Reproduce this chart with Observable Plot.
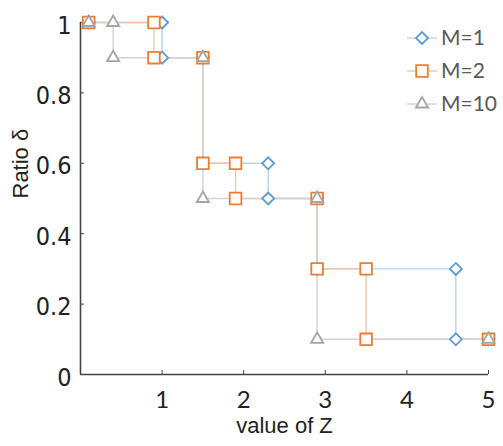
<!DOCTYPE html>
<html>
<head>
<meta charset="utf-8">
<script src="https://cdn.jsdelivr.net/npm/d3@7"></script>
<script src="https://cdn.jsdelivr.net/npm/@observablehq/plot@0.6"></script>
<style>
  html, body { margin: 0; padding: 0; background: #fff; }
  #chart { position: relative; width: 503px; height: 446px; }
</style>
</head>
<body>
<div id="chart"></div>
<script>
// Data
const seriesNames = ["M=1", "M=2", "M=10"];
const zM1 = [0.1, 1.0, 1.0, 1.5, 1.5, 2.3, 2.3, 2.9, 2.9, 4.6, 4.6, 5.0];
const rM1 = [1, 1, 0.9, 0.9, 0.6, 0.6, 0.5, 0.5, 0.3, 0.3, 0.1, 0.1];
const zM2 = [0.1, 0.9, 0.9, 1.5, 1.5, 1.9, 1.9, 2.9, 2.9, 3.5, 3.5, 5.0];
const rM2 = [1, 1, 0.9, 0.9, 0.6, 0.6, 0.5, 0.5, 0.3, 0.3, 0.1, 0.1];
const zM10 = [0.1, 0.4, 0.4, 1.5, 1.5, 2.9, 2.9, 5.0];
const rM10 = [1, 1, 0.9, 0.9, 0.5, 0.5, 0.1, 0.1];
const xTicks = [1, 2, 3, 4, 5];
const yTicks = [0, 0.2, 0.4, 0.6, 0.8, 1];

const styles = [
  {marker: "#5b9bd5", line: "#b9d3ef", symbol: "diamond2", r: 5.4},
  {marker: "#ed7d31", line: "#f4c5a6", symbol: "square2", r: 7.4},
  {marker: "#a5a5a5", line: "#d6d3d0", symbol: "triangle2", r: 5.8}
];

const series = [
  {name: seriesNames[0], pts: zM1.map((z, i) => ({z, r: rM1[i]}))},
  {name: seriesNames[1], pts: zM2.map((z, i) => ({z, r: rM2[i]}))},
  {name: seriesNames[2], pts: zM10.map((z, i) => ({z, r: rM10[i]}))}
];

const marks = [];
series.forEach((s, i) => {
  marks.push(Plot.line(s.pts, {x: "z", y: "r", stroke: styles[i].line, strokeWidth: 1.4}));
});
series.forEach((s, i) => {
  marks.push(Plot.dot(s.pts, {x: "z", y: "r", symbol: () => styles[i].symbol, r: styles[i].r,
    stroke: styles[i].marker, strokeWidth: 1.8, fill: "#fff"}));
});

const chart = Plot.plot({
  width: 503,
  height: 446,
  marginLeft: 80,
  marginRight: 15,
  marginTop: 22,
  marginBottom: 72,
  style: {background: "#fff"},
  x: {domain: [0, 5]},
  y: {domain: [0, 1]},
  symbol: {type: "identity"},
  marks: [
    Plot.axisX({ticks: xTicks, tickSize: -4, tickPadding: 20, tickFormat: d => String(d),
      stroke: "#444", fill: "#222", fontSize: 24, fontFamily: "Lato, 'Open Sans', sans-serif", label: null}),
    Plot.axisY({ticks: yTicks, tickSize: -4, tickFormat: () => "", stroke: "#444", label: null}),
    Plot.axisY({ticks: yTicks, tickSize: 0, tickPadding: 9, tickFormat: d => String(d), dy: 3,
      fill: "#222", fontSize: 25,
      fontFamily: "'Liberation Sans Narrow', 'DejaVu Sans Condensed', sans-serif", label: null}),
    Plot.ruleX([0], {stroke: "#444", strokeWidth: 1.6}),
    Plot.ruleY([0], {stroke: "#444", strokeWidth: 1.6}),
    ...marks,
    Plot.text(["value of Z"], {frameAnchor: "bottom", dy: 58, fontSize: 22, fill: "#222",
      fontFamily: "'Liberation Sans', Arial, sans-serif"}),
    Plot.text(["Ratio δ"], {frameAnchor: "left", dx: -60, rotate: -90, fontSize: 22, fill: "#222",
      fontFamily: "'Liberation Sans', Arial, sans-serif"})
  ]
});

document.getElementById("chart").appendChild(chart);

// Legend (drawn with d3 into the same svg)
const svg = d3.select(chart);
const lg = svg.append("g").attr("transform", "translate(407,38)");
const symMap = {diamond2: d3.symbolDiamond2, square2: d3.symbolSquare2, triangle2: d3.symbolTriangle2};
seriesNames.forEach((name, i) => {
  const g = lg.append("g").attr("transform", `translate(0,${i * 33})`);
  g.append("line").attr("x1", 0).attr("x2", 30).attr("y1", 0).attr("y2", 0)
    .attr("stroke", styles[i].line).attr("stroke-width", 1.4);
  g.append("path").attr("transform", "translate(15,0)")
    .attr("d", d3.symbol(symMap[styles[i].symbol], Math.PI * styles[i].r * styles[i].r)())
    .attr("fill", "#fff").attr("stroke", styles[i].marker).attr("stroke-width", 1.8);
  g.append("text").attr("x", 34).attr("y", 0).attr("dy", "0.35em")
    .attr("text-anchor", "start")
    .attr("font-family", "Lato, 'Open Sans', sans-serif").attr("font-size", 21)
    .attr("fill", "#595959").text(name);
});
</script>
</body>
</html>
